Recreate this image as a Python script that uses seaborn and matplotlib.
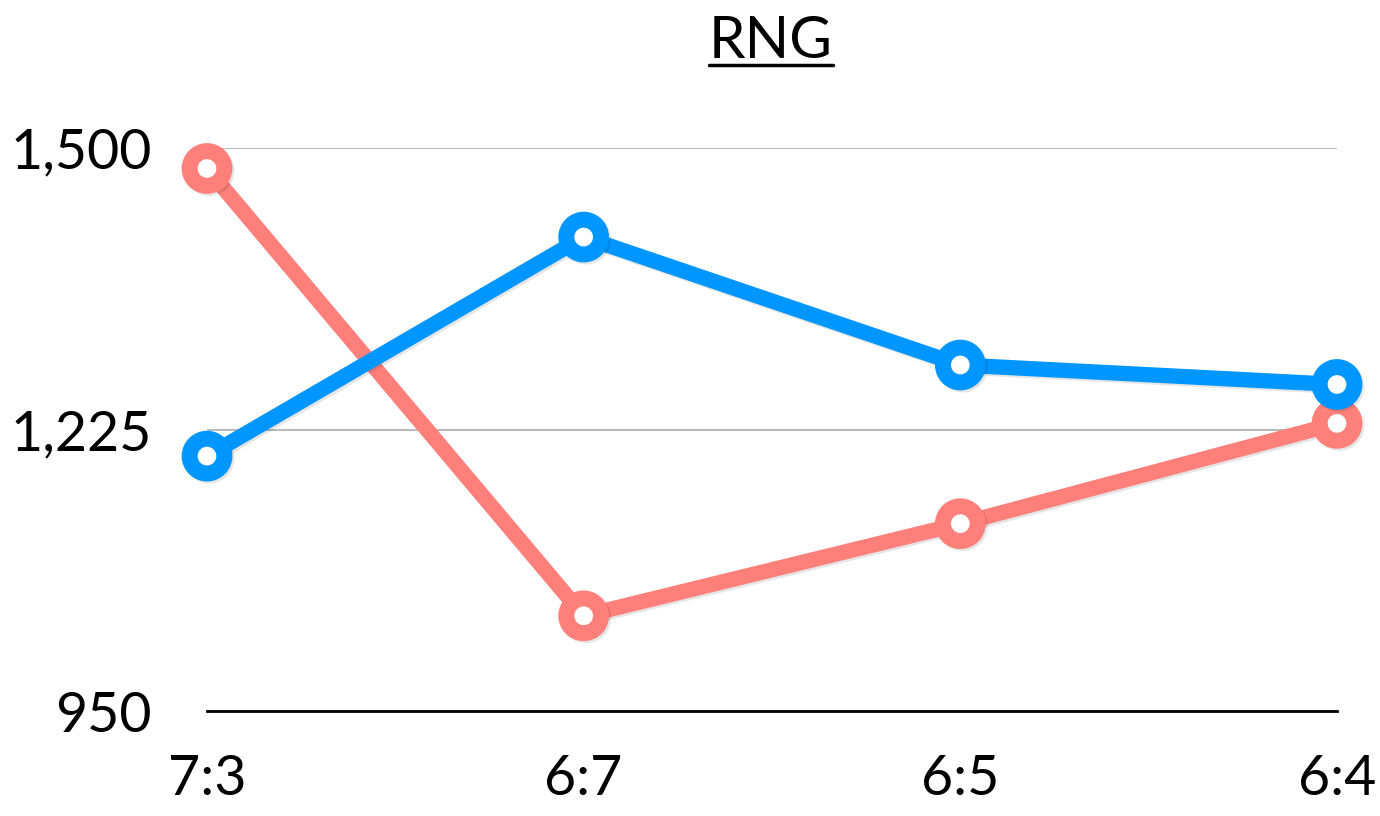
import matplotlib
matplotlib.use("Agg")
import matplotlib.pyplot as plt
import matplotlib.patheffects as pe
from matplotlib.lines import Line2D
import seaborn as sns
import pandas as pd

# Series data
categories = ["7:3", "6:7", "6:5", "6:4"]
red_values = [1480, 1043, 1133, 1231]
blue_values = [1199, 1413, 1288, 1269]
y_ticks = [950, 1225, 1500]
y_tick_labels = ["950", "1,225", "1,500"]
title_text = "RNG"

red_color = "#FF7F7B"
blue_color = "#0096FF"

sns.set_theme(style="white")
plt.rcParams["font.family"] = ["Lato", "DejaVu Sans"]

df = pd.DataFrame({
    "x": list(range(len(categories))) * 2,
    "value": red_values + blue_values,
    "series": ["red"] * len(categories) + ["blue"] * len(categories),
})

fig = plt.figure(figsize=(13.8, 8.16), dpi=100)
ax = fig.add_axes([207 / 1380, 1 - 711 / 816, (1337 - 207) / 1380, (711 - 148) / 816])

shadow = [pe.SimpleLineShadow(offset=(1.5, -1.5), shadow_color="black", alpha=0.10), pe.Normal()]

sns.lineplot(
    data=df, x="x", y="value", hue="series",
    palette={"red": red_color, "blue": blue_color},
    hue_order=["red", "blue"],
    linewidth=11, marker="o", markersize=25, markeredgewidth=11.5,
    markerfacecolor="white", legend=False, ax=ax, clip_on=False,
)
for ln in ax.lines:
    ln.set_markeredgecolor(ln.get_color())
    ln.set_solid_capstyle("round")
    ln.set_solid_joinstyle("round")
    ln.set_path_effects(shadow)
    ln.set_zorder(3)

ax.set_xlim(0, len(categories) - 1)
ax.set_ylim(950, 1500)
ax.set_xticks(range(len(categories)))
ax.set_xticklabels(categories)
ax.set_yticks(y_ticks)
ax.set_yticklabels(y_tick_labels)
ax.set_xlabel("")
ax.set_ylabel("")

ax.grid(axis="y", color="#BBBBBB", linewidth=1.5)
ax.grid(axis="x", visible=False)
for side in ["top", "right", "left"]:
    ax.spines[side].set_visible(False)
ax.spines["bottom"].set_color("black")
ax.spines["bottom"].set_linewidth(2)
ax.tick_params(axis="y", length=0, pad=40, labelsize=40, labelcolor="black")
ax.tick_params(axis="x", length=0, pad=31, labelsize=40, labelcolor="black")

title = fig.text(771 / 1380, 1 - 58 / 816, title_text, ha="center", va="baseline",
                 fontsize=42, color="black")

# Underline under the title
fig.canvas.draw()
bb = title.get_window_extent(renderer=fig.canvas.get_renderer())
inv = fig.transFigure.inverted()
(x0, _), (x1, _) = inv.transform([(bb.x0, bb.y0), (bb.x1, bb.y0)])
uy = 1 - 65 / 816
fig.add_artist(Line2D([x0, x1], [uy, uy], transform=fig.transFigure, color="black", linewidth=2.5))

fig.savefig("out.png", dpi=100, facecolor="white")
